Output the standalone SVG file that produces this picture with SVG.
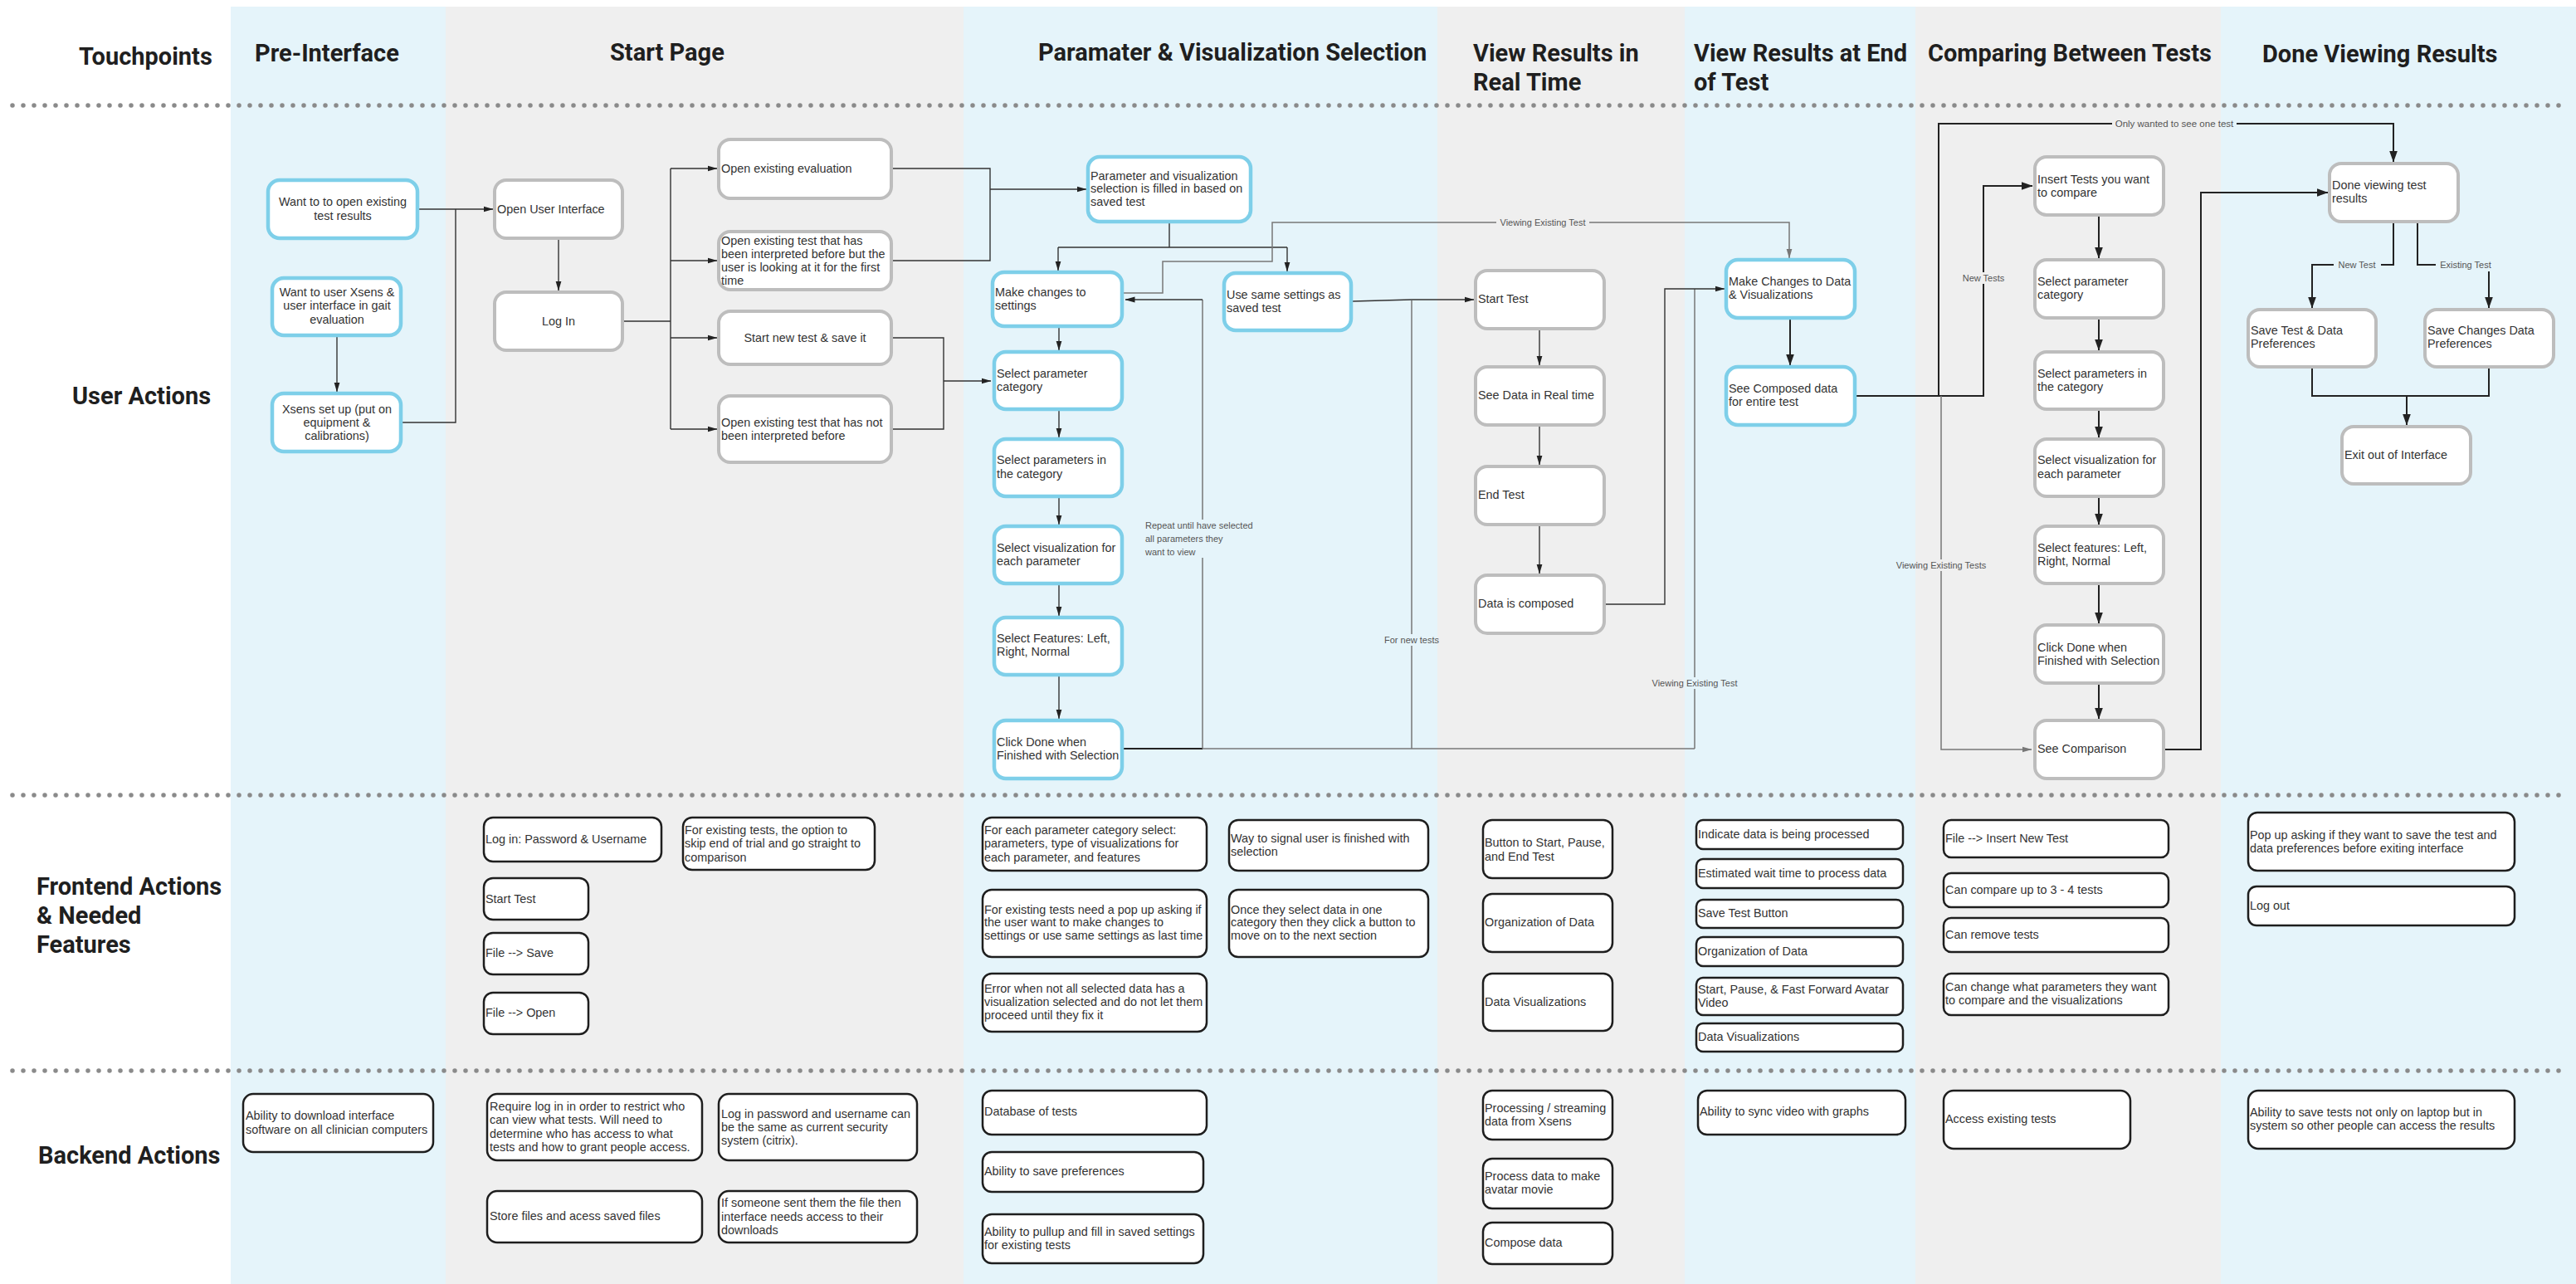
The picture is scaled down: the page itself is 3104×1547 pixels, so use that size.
<svg xmlns="http://www.w3.org/2000/svg" width="3104" height="1547" viewBox="0 0 3104 1547">
<style>
.bb{fill:#E5F4FA}.bg{fill:#EFEFEF}
.h{font-family:Roboto,"Liberation Sans",sans-serif;font-weight:700;font-size:29px;fill:#1f1f1f}
.t{font-family:"Liberation Sans",Arial,sans-serif;font-size:14.4px;fill:#333}
.c{text-anchor:middle}
.ub{fill:#fff;stroke:#7ECFE9;stroke-width:4.5}
.ug{fill:#fff;stroke:#BDBDBD;stroke-width:4}
.fb{fill:#fff;stroke:#1e1e1e;stroke-width:2.5}
.dot{stroke:#8a8a8a;stroke-width:5.5;stroke-linecap:round;stroke-dasharray:0 13;fill:none}
.k{fill:none;stroke:#333;stroke-width:1.4}
.kb{fill:none;stroke:#222;stroke-width:2}
.g{fill:none;stroke:#777;stroke-width:1.5}
.lbl{font-family:"Liberation Sans",Arial,sans-serif;font-size:11px;fill:#555}
</style>
<defs>
<marker id="a" viewBox="0 0 12 8" refX="11.5" refY="4" markerWidth="12" markerHeight="8" orient="auto" markerUnits="userSpaceOnUse"><path d="M0,0.5 L12,4 L0,7.5 Z" fill="#222"/></marker>
<marker id="ag" viewBox="0 0 12 8" refX="11.5" refY="4" markerWidth="12" markerHeight="8" orient="auto" markerUnits="userSpaceOnUse"><path d="M0,0.5 L12,4 L0,7.5 Z" fill="#777"/></marker>
<marker id="A" viewBox="0 0 14 10" refX="13.5" refY="5" markerWidth="14" markerHeight="10" orient="auto" markerUnits="userSpaceOnUse"><path d="M0,0 L14,5 L0,10 Z" fill="#222"/></marker>
</defs>
<rect x="0" y="0" width="3104" height="1547" fill="#fff"/>
<g id="bands">
<rect class="bb" x="278" y="8" width="259" height="1539"/>
<rect class="bg" x="537" y="8" width="624" height="1539"/>
<rect class="bb" x="1161" y="8" width="571" height="1539"/>
<rect class="bg" x="1732" y="8" width="298" height="1539"/>
<rect class="bb" x="2030" y="8" width="278" height="1539"/>
<rect class="bg" x="2308" y="8" width="368" height="1539"/>
<rect class="bb" x="2676" y="8" width="428" height="1539"/>
</g>
<g id="dividers">
<line class="dot" x1="15" y1="127" x2="3092" y2="127"/>
<line class="dot" x1="15" y1="958" x2="3092" y2="958"/>
<line class="dot" x1="15" y1="1290" x2="3092" y2="1290"/>
</g>
<g id="headers">
<text class="h" x="95" y="78">Touchpoints</text>
<text class="h" x="307" y="74">Pre-Interface</text>
<text class="h" x="735" y="73">Start Page</text>
<text class="h" x="1251" y="73">Paramater &amp; Visualization Selection</text>
<text class="h" x="1775" y="74">View Results in<tspan x="1775" y="109">Real Time</tspan></text>
<text class="h" x="2041" y="74">View Results at End<tspan x="2041" y="109">of Test</tspan></text>
<text class="h" x="2323" y="74">Comparing Between Tests</text>
<text class="h" x="2726" y="75">Done Viewing Results</text>
<text class="h" x="87" y="487">User Actions</text>
<text class="h" x="44" y="1078">Frontend Actions<tspan x="44" y="1113">&amp; Needed</tspan><tspan x="44" y="1148">Features</tspan></text>
<text class="h" x="46" y="1402">Backend Actions</text>
</g>
<g id="connectors">
<path class="k" d="M406,404 V472" marker-end="url(#a)"/>
<path class="k" d="M503,252 H594" marker-end="url(#a)"/>
<path class="k" d="M485,509 H549 V252"/>
<path class="k" d="M673,287 V350" marker-end="url(#a)"/>
<path class="k" d="M750,387 H808 M808,203 V517"/>
<path class="k" d="M808,203 H864" marker-end="url(#a)"/>
<path class="k" d="M808,314 H864" marker-end="url(#a)"/>
<path class="k" d="M808,407 H864" marker-end="url(#a)"/>
<path class="k" d="M808,517 H864" marker-end="url(#a)"/>
<path class="k" d="M1074,203 H1193 V314 H1074"/>
<path class="k" d="M1193,228 H1309" marker-end="url(#a)"/>
<path class="k" d="M1074,407 H1137 V517 H1074"/>
<path class="k" d="M1137,459 H1194" marker-end="url(#a)"/>
<path class="k" d="M1409,267 V298 M1275,298 H1551"/>
<path class="k" d="M1275,298 V326" marker-end="url(#a)"/>
<path class="k" d="M1551,298 V327" marker-end="url(#a)"/>
<path class="g" d="M1354,353 H1401 V315 H1533 V268 H1803 M1915,268 H2156 V311" marker-end="url(#ag)"/>
<text class="lbl c" x="1859" y="272">Viewing Existing Test</text>
<path class="k" d="M1276,393 V422" marker-end="url(#a)"/>
<path class="k" d="M1276,493 V527" marker-end="url(#a)"/>
<path class="k" d="M1276,598 V632" marker-end="url(#a)"/>
<path class="k" d="M1276,703 V742" marker-end="url(#a)"/>
<path class="k" d="M1276,813 V866" marker-end="url(#a)"/>
<path class="kb" d="M1353,902 H1449"/>
<path class="g" d="M1449,902 H2042"/>
<path class="g" d="M1449,902 V672 M1449,626 V361"/>
<path class="k" d="M1449,361 H1356" marker-end="url(#a)"/>
<text class="lbl" x="1380" y="637">Repeat until have selected<tspan x="1380" y="653">all parameters they</tspan><tspan x="1380" y="669">want to view</tspan></text>
<path class="g" d="M1701,902 V778 M1701,764 V362"/>
<text class="lbl c" x="1701" y="775">For new tests</text>
<path class="k" d="M1630,363 L1701,361 H1776" marker-end="url(#a)"/>
<path class="g" d="M2042,902 V830 M2042,816 V348"/>
<text class="lbl c" x="2042" y="827">Viewing Existing Test</text>
<path class="k" d="M1934,728 H2006 V348 H2078" marker-end="url(#a)"/>
<path class="k" d="M1855,396 V440" marker-end="url(#a)"/>
<path class="k" d="M1855,512 V560" marker-end="url(#a)"/>
<path class="k" d="M1855,632 V691" marker-end="url(#a)"/>
<path class="kb" d="M2157,383 V440" marker-end="url(#A)"/>
<path class="kb" d="M2236,477 H2390 V342 M2390,328 V224 H2449" marker-end="url(#A)"/>
<text class="lbl c" x="2390" y="339">New Tests</text>
<path class="kb" d="M2336,477 V149 H2545 M2695,149 H2884 V195" marker-end="url(#A)"/>
<text class="lbl c" x="2620" y="153" style="font-size:11.5px">Only wanted to see one test</text>
<path class="g" d="M2339,477 V674 M2339,688 V903 H2448" marker-end="url(#ag)"/>
<text class="lbl c" x="2339" y="685">Viewing Existing Tests</text>
<path class="kb" d="M2529,259 V311" marker-end="url(#A)"/>
<path class="kb" d="M2529,383 V422" marker-end="url(#A)"/>
<path class="kb" d="M2529,493 V527" marker-end="url(#A)"/>
<path class="kb" d="M2529,598 V632" marker-end="url(#A)"/>
<path class="kb" d="M2529,703 V751" marker-end="url(#A)"/>
<path class="kb" d="M2529,823 V866" marker-end="url(#A)"/>
<path class="kb" d="M2609,903 H2652 V232 H2805" marker-end="url(#A)"/>
<path class="kb" d="M2884,267 V319 H2869 M2812,319 H2786 V371" marker-end="url(#A)"/>
<text class="lbl c" x="2840" y="323">New Test</text>
<path class="kb" d="M2913,267 V319 H2935"/>
<path class="kb" d="M2999,327 V371" marker-end="url(#A)"/>
<text class="lbl c" x="2971" y="323">Existing Test</text>
<path class="kb" d="M2786,442 V477 H2999 V442"/>
<path class="kb" d="M2900,477 V512" marker-end="url(#A)"/>
</g>
<g id="n1"><rect class="ub" x="323" y="217" width="180" height="70" rx="14"/><text class="t c" x="413" y="248">Want to to open existing<tspan x="413" y="265">test results</tspan></text></g>
<g id="n2"><rect class="ub" x="328" y="335" width="155" height="69" rx="14"/><text class="t c" x="406" y="357">Want to user Xsens &amp;<tspan x="406" y="373">user interface in gait</tspan><tspan x="406" y="390">evaluation</tspan></text></g>
<g id="n3"><rect class="ub" x="328" y="474" width="155" height="70" rx="14"/><text class="t c" x="406" y="498">Xsens set up (put on<tspan x="406" y="514">equipment &amp;</tspan><tspan x="406" y="530">calibrations)</tspan></text></g>
<g id="n4"><rect class="ug" x="596" y="217" width="154" height="70" rx="14"/><text class="t" x="599" y="257">Open User Interface</text></g>
<g id="n5"><rect class="ug" x="596" y="352" width="154" height="70" rx="14"/><text class="t c" x="673" y="392">Log In</text></g>
<g id="n6"><rect class="ug" x="866" y="168" width="208" height="71" rx="14"/><text class="t" x="869" y="208">Open existing evaluation</text></g>
<g id="n7"><rect class="ug" x="866" y="279" width="208" height="70" rx="14"/><text class="t" x="869" y="295">Open existing test that has<tspan x="869" y="311">been interpreted before but the</tspan><tspan x="869" y="327">user is looking at it for the first</tspan><tspan x="869" y="343">time</tspan></text></g>
<g id="n8"><rect class="ug" x="866" y="375" width="208" height="64" rx="14"/><text class="t c" x="970" y="412">Start new test &amp; save it</text></g>
<g id="n9"><rect class="ug" x="866" y="477" width="208" height="80" rx="14"/><text class="t" x="869" y="514">Open existing test that has not<tspan x="869" y="530">been interpreted before</tspan></text></g>
<g id="n10"><rect class="ub" x="1311" y="189" width="196" height="78" rx="14"/><text class="t" x="1314" y="217">Parameter and visualization<tspan x="1314" y="232">selection is filled in based on</tspan><tspan x="1314" y="248">saved test</tspan></text></g>
<g id="n11"><rect class="ub" x="1196" y="328" width="156" height="65" rx="14"/><text class="t" x="1199" y="357">Make changes to<tspan x="1199" y="373">settings</tspan></text></g>
<g id="n12"><rect class="ub" x="1475" y="329" width="153" height="69" rx="14"/><text class="t" x="1478" y="360">Use same settings as<tspan x="1478" y="376">saved test</tspan></text></g>
<g id="n13"><rect class="ub" x="1198" y="424" width="154" height="69" rx="14"/><text class="t" x="1201" y="455">Select parameter<tspan x="1201" y="471">category</tspan></text></g>
<g id="n14"><rect class="ub" x="1198" y="529" width="154" height="69" rx="14"/><text class="t" x="1201" y="559">Select parameters in<tspan x="1201" y="576">the category</tspan></text></g>
<g id="n15"><rect class="ub" x="1198" y="634" width="154" height="69" rx="14"/><text class="t" x="1201" y="665">Select visualization for<tspan x="1201" y="681">each parameter</tspan></text></g>
<g id="n16"><rect class="ub" x="1198" y="744" width="154" height="69" rx="14"/><text class="t" x="1201" y="774">Select Features: Left,<tspan x="1201" y="790">Right, Normal</tspan></text></g>
<g id="n17"><rect class="ub" x="1198" y="868" width="154" height="70" rx="14"/><text class="t" x="1201" y="899">Click Done when<tspan x="1201" y="915">Finished with Selection</tspan></text></g>
<g id="n18"><rect class="ug" x="1778" y="326" width="155" height="70" rx="14"/><text class="t" x="1781" y="365">Start Test</text></g>
<g id="n19"><rect class="ug" x="1778" y="442" width="155" height="70" rx="14"/><text class="t" x="1781" y="481">See Data in Real time</text></g>
<g id="n20"><rect class="ug" x="1778" y="562" width="155" height="70" rx="14"/><text class="t" x="1781" y="601">End Test</text></g>
<g id="n21"><rect class="ug" x="1778" y="693" width="155" height="70" rx="14"/><text class="t" x="1781" y="732">Data is composed</text></g>
<g id="n22"><rect class="ub" x="2080" y="313" width="155" height="70" rx="14"/><text class="t" x="2083" y="344">Make Changes to Data<tspan x="2083" y="360">&amp; Visualizations</tspan></text></g>
<g id="n23"><rect class="ub" x="2080" y="442" width="155" height="70" rx="14"/><text class="t" x="2083" y="473">See Composed data<tspan x="2083" y="489">for entire test</tspan></text></g>
<g id="n24"><rect class="ug" x="2452" y="189" width="155" height="70" rx="14"/><text class="t" x="2455" y="221">Insert Tests you want<tspan x="2455" y="237">to compare</tspan></text></g>
<g id="n25"><rect class="ug" x="2452" y="313" width="155" height="70" rx="14"/><text class="t" x="2455" y="344">Select parameter<tspan x="2455" y="360">category</tspan></text></g>
<g id="n26"><rect class="ug" x="2452" y="424" width="155" height="69" rx="14"/><text class="t" x="2455" y="455">Select parameters in<tspan x="2455" y="471">the category</tspan></text></g>
<g id="n27"><rect class="ug" x="2452" y="529" width="155" height="69" rx="14"/><text class="t" x="2455" y="559">Select visualization for<tspan x="2455" y="576">each parameter</tspan></text></g>
<g id="n28"><rect class="ug" x="2452" y="634" width="155" height="69" rx="14"/><text class="t" x="2455" y="665">Select features: Left,<tspan x="2455" y="681">Right, Normal</tspan></text></g>
<g id="n29"><rect class="ug" x="2452" y="753" width="155" height="70" rx="14"/><text class="t" x="2455" y="785">Click Done when<tspan x="2455" y="801">Finished with Selection</tspan></text></g>
<g id="n30"><rect class="ug" x="2452" y="868" width="155" height="70" rx="14"/><text class="t" x="2455" y="907">See Comparison</text></g>
<g id="n31"><rect class="ug" x="2807" y="197" width="155" height="70" rx="14"/><text class="t" x="2810" y="228">Done viewing test<tspan x="2810" y="244">results</tspan></text></g>
<g id="n32"><rect class="ug" x="2709" y="373" width="154" height="69" rx="14"/><text class="t" x="2712" y="403">Save Test &amp; Data<tspan x="2712" y="419">Preferences</tspan></text></g>
<g id="n33"><rect class="ug" x="2922" y="373" width="155" height="69" rx="14"/><text class="t" x="2925" y="403">Save Changes Data<tspan x="2925" y="419">Preferences</tspan></text></g>
<g id="n34"><rect class="ug" x="2822" y="514" width="155" height="69" rx="14"/><text class="t" x="2825" y="553">Exit out of Interface</text></g>
<g id="f1"><rect class="fb" x="583" y="985" width="214" height="53" rx="11"/><text class="t" x="585" y="1016">Log in: Password &amp; Username</text></g>
<g id="f2"><rect class="fb" x="823" y="985" width="231" height="63" rx="11"/><text class="t" x="825" y="1005">For existing tests, the option to<tspan x="825" y="1021">skip end of trial and go straight to</tspan><tspan x="825" y="1038">comparison</tspan></text></g>
<g id="f3"><rect class="fb" x="583" y="1058" width="126" height="50" rx="11"/><text class="t" x="585" y="1088">Start Test</text></g>
<g id="f4"><rect class="fb" x="583" y="1124" width="126" height="50" rx="11"/><text class="t" x="585" y="1153">File --&gt; Save</text></g>
<g id="f5"><rect class="fb" x="583" y="1196" width="126" height="50" rx="11"/><text class="t" x="585" y="1225">File --&gt; Open</text></g>
<g id="f6"><rect class="fb" x="1184" y="985" width="270" height="64" rx="11"/><text class="t" x="1186" y="1005">For each parameter category select:<tspan x="1186" y="1021">parameters, type of visualizations for</tspan><tspan x="1186" y="1038">each parameter, and features</tspan></text></g>
<g id="f7"><rect class="fb" x="1481" y="988" width="240" height="61" rx="11"/><text class="t" x="1483" y="1015">Way to signal user is finished with<tspan x="1483" y="1031">selection</tspan></text></g>
<g id="f8"><rect class="fb" x="1184" y="1072" width="270" height="81" rx="11"/><text class="t" x="1186" y="1101">For existing tests need a pop up asking if<tspan x="1186" y="1116">the user want to make changes to</tspan><tspan x="1186" y="1132">settings or use same settings as last time</tspan></text></g>
<g id="f9"><rect class="fb" x="1481" y="1072" width="240" height="81" rx="11"/><text class="t" x="1483" y="1101">Once they select data in one<tspan x="1483" y="1116">category then they click a button to</tspan><tspan x="1483" y="1132">move on to the next section</tspan></text></g>
<g id="f10"><rect class="fb" x="1184" y="1173" width="270" height="70" rx="11"/><text class="t" x="1186" y="1196">Error when not all selected data has a<tspan x="1186" y="1212">visualization selected and do not let them</tspan><tspan x="1186" y="1228">proceed until they fix it</tspan></text></g>
<g id="f11"><rect class="fb" x="1787" y="988" width="156" height="70" rx="11"/><text class="t" x="1789" y="1020">Button to Start, Pause,<tspan x="1789" y="1037">and End Test</tspan></text></g>
<g id="f12"><rect class="fb" x="1787" y="1077" width="156" height="70" rx="11"/><text class="t" x="1789" y="1116">Organization of Data</text></g>
<g id="f13"><rect class="fb" x="1787" y="1173" width="156" height="69" rx="11"/><text class="t" x="1789" y="1212">Data Visualizations</text></g>
<g id="f14"><rect class="fb" x="2044" y="988" width="249" height="35" rx="8"/><text class="t" x="2046" y="1010">Indicate data is being processed</text></g>
<g id="f15"><rect class="fb" x="2044" y="1035" width="249" height="35" rx="8"/><text class="t" x="2046" y="1057">Estimated wait time to process data</text></g>
<g id="f16"><rect class="fb" x="2044" y="1084" width="249" height="34" rx="8"/><text class="t" x="2046" y="1105">Save Test Button</text></g>
<g id="f17"><rect class="fb" x="2044" y="1129" width="249" height="35" rx="8"/><text class="t" x="2046" y="1151">Organization of Data</text></g>
<g id="f18"><rect class="fb" x="2044" y="1178" width="249" height="45" rx="8"/><text class="t" x="2046" y="1197">Start, Pause, &amp; Fast Forward Avatar<tspan x="2046" y="1213">Video</tspan></text></g>
<g id="f19"><rect class="fb" x="2044" y="1233" width="249" height="34" rx="8"/><text class="t" x="2046" y="1254">Data Visualizations</text></g>
<g id="f20"><rect class="fb" x="2342" y="988" width="271" height="45" rx="9"/><text class="t" x="2344" y="1015">File --&gt; Insert New Test</text></g>
<g id="f21"><rect class="fb" x="2342" y="1052" width="271" height="41" rx="9"/><text class="t" x="2344" y="1077">Can compare up to 3 - 4 tests</text></g>
<g id="f22"><rect class="fb" x="2342" y="1106" width="271" height="41" rx="9"/><text class="t" x="2344" y="1131">Can remove tests</text></g>
<g id="f23"><rect class="fb" x="2342" y="1173" width="271" height="50" rx="9"/><text class="t" x="2344" y="1194">Can change what parameters they want<tspan x="2344" y="1210">to compare and the visualizations</tspan></text></g>
<g id="f24"><rect class="fb" x="2709" y="979" width="321" height="70" rx="11"/><text class="t" x="2711" y="1011">Pop up asking if they want to save the test and<tspan x="2711" y="1027">data preferences before exiting interface</tspan></text></g>
<g id="f25"><rect class="fb" x="2709" y="1068" width="321" height="47" rx="10"/><text class="t" x="2711" y="1096">Log out</text></g>
<g id="b1"><rect class="fb" x="293" y="1318" width="229" height="70" rx="12"/><text class="t" x="296" y="1349">Ability to download interface<tspan x="296" y="1366">software on all clinician computers</tspan></text></g>
<g id="b2"><rect class="fb" x="587" y="1318" width="259" height="80" rx="12"/><text class="t" x="590" y="1338">Require log in in order to restrict who<tspan x="590" y="1354">can view what tests. Will need to</tspan><tspan x="590" y="1371">determine who has access to what</tspan><tspan x="590" y="1387">tests and how to grant people access.</tspan></text></g>
<g id="b3"><rect class="fb" x="866" y="1318" width="239" height="80" rx="12"/><text class="t" x="869" y="1347">Log in password and username can<tspan x="869" y="1363">be the same as current security</tspan><tspan x="869" y="1379">system (citrix).</tspan></text></g>
<g id="b4"><rect class="fb" x="587" y="1435" width="259" height="62" rx="12"/><text class="t" x="590" y="1470">Store files and acess saved files</text></g>
<g id="b5"><rect class="fb" x="866" y="1435" width="239" height="62" rx="12"/><text class="t" x="869" y="1454">If someone sent them the file then<tspan x="869" y="1471">interface needs access to their</tspan><tspan x="869" y="1487">downloads</tspan></text></g>
<g id="b6"><rect class="fb" x="1184" y="1314" width="270" height="53" rx="11"/><text class="t" x="1186" y="1344">Database of tests</text></g>
<g id="b7"><rect class="fb" x="1184" y="1388" width="266" height="48" rx="11"/><text class="t" x="1186" y="1416">Ability to save preferences</text></g>
<g id="b8"><rect class="fb" x="1184" y="1463" width="266" height="59" rx="11"/><text class="t" x="1186" y="1489">Ability to pullup and fill in saved settings<tspan x="1186" y="1505">for existing tests</tspan></text></g>
<g id="b9"><rect class="fb" x="1787" y="1314" width="156" height="59" rx="11"/><text class="t" x="1789" y="1340">Processing / streaming<tspan x="1789" y="1356">data from Xsens</tspan></text></g>
<g id="b10"><rect class="fb" x="1787" y="1396" width="156" height="60" rx="11"/><text class="t" x="1789" y="1422">Process data to make<tspan x="1789" y="1438">avatar movie</tspan></text></g>
<g id="b11"><rect class="fb" x="1787" y="1473" width="156" height="50" rx="11"/><text class="t" x="1789" y="1502">Compose data</text></g>
<g id="b12"><rect class="fb" x="2046" y="1314" width="250" height="53" rx="11"/><text class="t" x="2048" y="1344">Ability to sync video with graphs</text></g>
<g id="b13"><rect class="fb" x="2342" y="1314" width="225" height="70" rx="12"/><text class="t" x="2344" y="1353">Access existing tests</text></g>
<g id="b14"><rect class="fb" x="2709" y="1314" width="321" height="70" rx="12"/><text class="t" x="2711" y="1345">Ability to save tests not only on laptop but in<tspan x="2711" y="1361">system so other people can access the results</tspan></text></g>
</svg>
